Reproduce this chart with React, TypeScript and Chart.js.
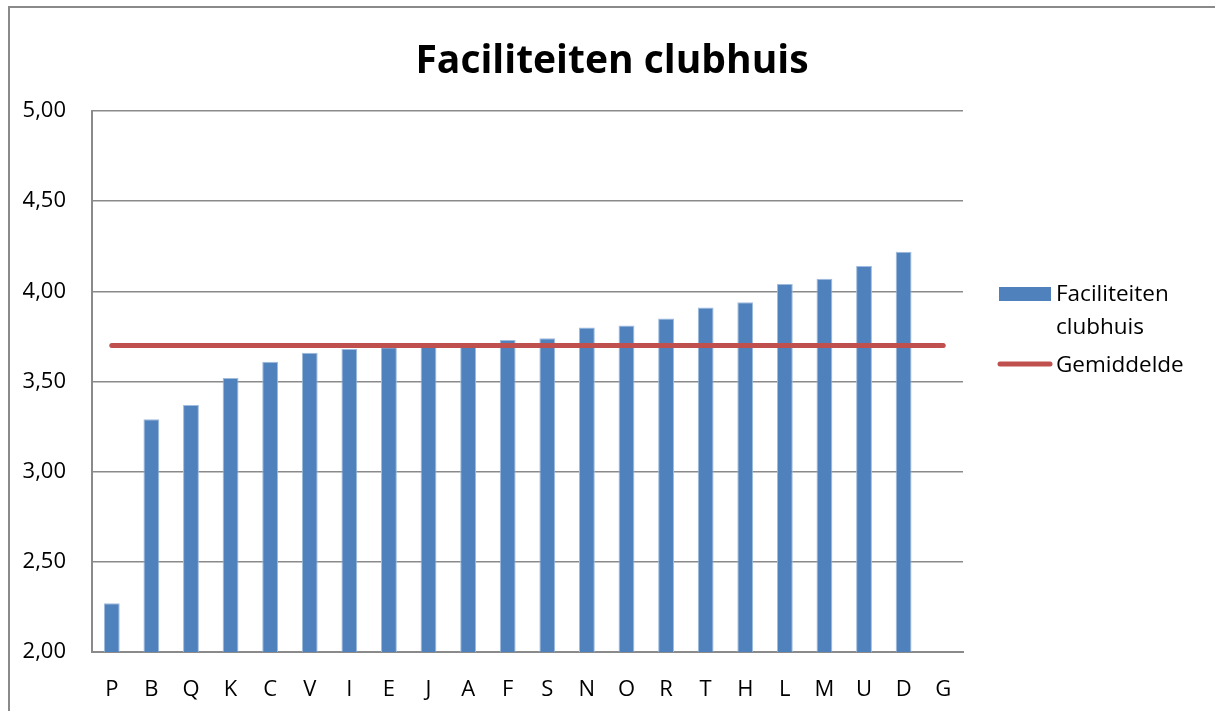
import React, { useEffect, useRef } from "react";
import { Chart, registerables } from "chart.js";

Chart.register(...registerables);

const categories = ["P", "B", "Q", "K", "C", "V", "I", "E", "J", "A", "F", "S", "N", "O", "R", "T", "H", "L", "M", "U", "D", "G"];
const clubhuisValues: (number | null)[] = [2.27, 3.29, 3.37, 3.52, 3.61, 3.66, 3.68, 3.69, 3.70, 3.70, 3.73, 3.74, 3.80, 3.81, 3.85, 3.91, 3.94, 4.04, 4.07, 4.14, 4.22, null];
const gemiddelde = 3.70;
const gemiddeldeValues = categories.map(() => gemiddelde);
const titleText = "Faciliteiten clubhuis";
const seriesLabels = ["Faciliteiten clubhuis", "Gemiddelde"];
const legendLines = [["Faciliteiten", "clubhuis"], ["Gemiddelde"]];

const BLUE = "#4F81BD";
const RED = "#C0504D";
const FONT = "'Open Sans', sans-serif";

const decorPlugin = {
  id: "decor",
  beforeDraw(chart: any) {
    const ctx = chart.ctx;
    ctx.save();
    ctx.fillStyle = "#ffffff";
    ctx.fillRect(0, 0, chart.width, chart.height);
    ctx.strokeStyle = "#8a8a8a";
    ctx.lineWidth = 2;
    ctx.strokeRect(9, 7, chart.width + 20, chart.height + 20);
    ctx.restore();
  },
  afterDraw(chart: any) {
    const ctx = chart.ctx;
    ctx.save();
    // title
    ctx.fillStyle = "#000";
    ctx.font = `bold 39px ${FONT}`;
    ctx.textAlign = "center";
    ctx.textBaseline = "alphabetic";
    ctx.fillText(titleText, 612, 73);
    // legend
    ctx.font = `22.5px ${FONT}`;
    ctx.textAlign = "left";
    ctx.fillStyle = BLUE;
    ctx.fillRect(999, 287, 52, 14);
    ctx.fillStyle = "#000";
    ctx.fillText(legendLines[0][0], 1056, 301);
    ctx.fillText(legendLines[0][1], 1056, 334);
    ctx.strokeStyle = RED;
    ctx.lineWidth = 5;
    ctx.lineCap = "round";
    ctx.beginPath();
    ctx.moveTo(1000, 364);
    ctx.lineTo(1050, 364);
    ctx.stroke();
    ctx.fillText(legendLines[1][0], 1056, 372);
    ctx.restore();
  },
};

export default function App() {
  const ref = useRef<HTMLCanvasElement>(null);
  useEffect(() => {
    if (!ref.current) return;
    const chart = new Chart(ref.current, {
      type: "bar",
      data: {
        labels: categories,
        datasets: [
          {
            type: "line",
            label: seriesLabels[1],
            data: gemiddeldeValues,
            borderColor: RED,
            backgroundColor: RED,
            borderWidth: 5,
            borderCapStyle: "round",
            pointRadius: 0,
            tension: 0,
            order: 0,
          } as any,
          {
            type: "bar",
            label: seriesLabels[0],
            data: clubhuisValues,
            backgroundColor: BLUE,
            borderColor: "#9fbbdd",
            borderWidth: 1,
            categoryPercentage: 1,
            barPercentage: 0.4,
            order: 1,
          } as any,
        ],
      },
      plugins: [decorPlugin],
      options: {
        animation: false,
        responsive: false,
        devicePixelRatio: 1,
        layout: { padding: { left: 10, right: 252, top: 111, bottom: 0 } },
        plugins: { legend: { display: false }, title: { display: false }, tooltip: { enabled: false } },
        scales: {
          x: {
            offset: true,
            grid: { display: false, drawTicks: false },
            border: { display: true, color: "#8a8a8a", width: 2 },
            ticks: { color: "#000", font: { family: FONT, size: 22 }, padding: 25, maxRotation: 0, autoSkip: false },
            afterFit: (s: any) => { s.height = 59; },
          },
          y: {
            min: 2,
            max: 5,
            grid: { color: "#8a8a8a", lineWidth: 1.5, drawTicks: false },
            border: { display: true, color: "#8a8a8a", width: 2 },
            ticks: {
              stepSize: 0.5,
              color: "#000",
              font: { family: FONT, size: 22 },
              padding: 26,
              callback: (v: any) => Number(v).toFixed(2).replace(".", ","),
            },
            afterFit: (s: any) => { s.width = 82; },
          },
        },
      },
    });
    return () => chart.destroy();
  }, []);
  return (
    <div style={{ position: "fixed", left: 0, top: 0, width: 1215, height: 711, background: "#fff" }}>
      <canvas ref={ref} width={1215} height={711} />
    </div>
  );
}
